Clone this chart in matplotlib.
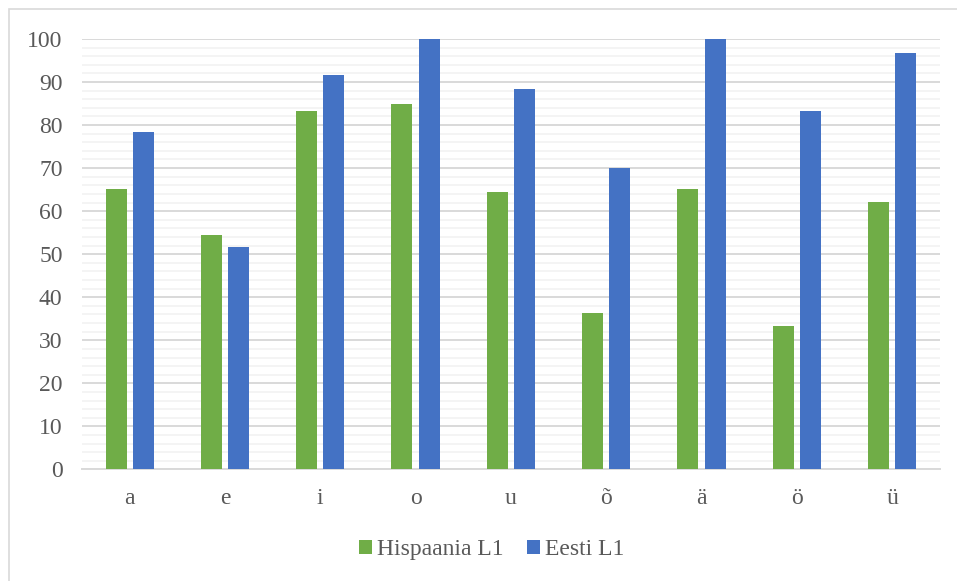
import numpy as np
import matplotlib.pyplot as plt
from matplotlib.patches import Rectangle

# vokaalid ja tulemused (%)
vowels = ['a', 'e', 'i', 'o', 'u', 'õ', 'ä', 'ö', 'ü']
hispaania = [65.2, 54.5, 83.3, 84.8, 64.4, 36.4, 65.2, 33.3, 62.1]
eesti = [78.3, 51.7, 91.7, 100.0, 88.3, 70.0, 100.0, 83.3, 96.7]
yticks = list(range(0, 101, 10))

green = '#70ad47'
blue = '#4472c4'
text_col = '#595959'

plt.rcParams['font.family'] = ['Liberation Serif', 'DejaVu Serif']

fig = plt.figure(figsize=(9.57, 5.81), dpi=100)
ax = fig.add_axes([0.0857, 0.192, 0.8963, 0.741])

# raam ümber diagrammi
fig.patches.append(Rectangle((8.5 / 957, -0.05), 1.2, 1.05 - 9.5 / 581,
                             transform=fig.transFigure, fill=False,
                             edgecolor='#d9d9d9', linewidth=1.2))

x = np.arange(len(vowels))
w = 0.22
ax.bar(x - 0.143, hispaania, w, color=green, label='Hispaania L1', zorder=3)
ax.bar(x + 0.143, eesti, w, color=blue, label='Eesti L1', zorder=3)

ax.set_xlim(-0.5, len(vowels) - 0.5)
ax.set_ylim(0, 100)
ax.set_yticks(yticks)
ax.set_yticks(np.arange(0, 101, 2), minor=True)
ax.set_xticks(x)
ax.set_xticklabels(vowels)

ax.grid(axis='y', which='major', color='#d9d9d9', linewidth=1.4, zorder=0)
ax.grid(axis='y', which='minor', color='#f2f2f2', linewidth=1.2, zorder=0)
ax.tick_params(axis='both', which='both', length=0, labelsize=17, labelcolor=text_col)
ax.tick_params(axis='y', pad=14)
ax.tick_params(axis='x', pad=13)

for s in ['top', 'right', 'left']:
    ax.spines[s].set_visible(False)
ax.spines['bottom'].set_color('#d9d9d9')
ax.spines['bottom'].set_linewidth(1.4)

leg = fig.legend(loc='center', bbox_to_anchor=(0.514, 0.054), ncol=2, frameon=False,
                 fontsize=17, handlelength=0.55, handleheight=0.55, handletextpad=0.2,
                 columnspacing=1.0)
for t in leg.get_texts():
    t.set_color(text_col)

fig.savefig('out.png', dpi=100)
